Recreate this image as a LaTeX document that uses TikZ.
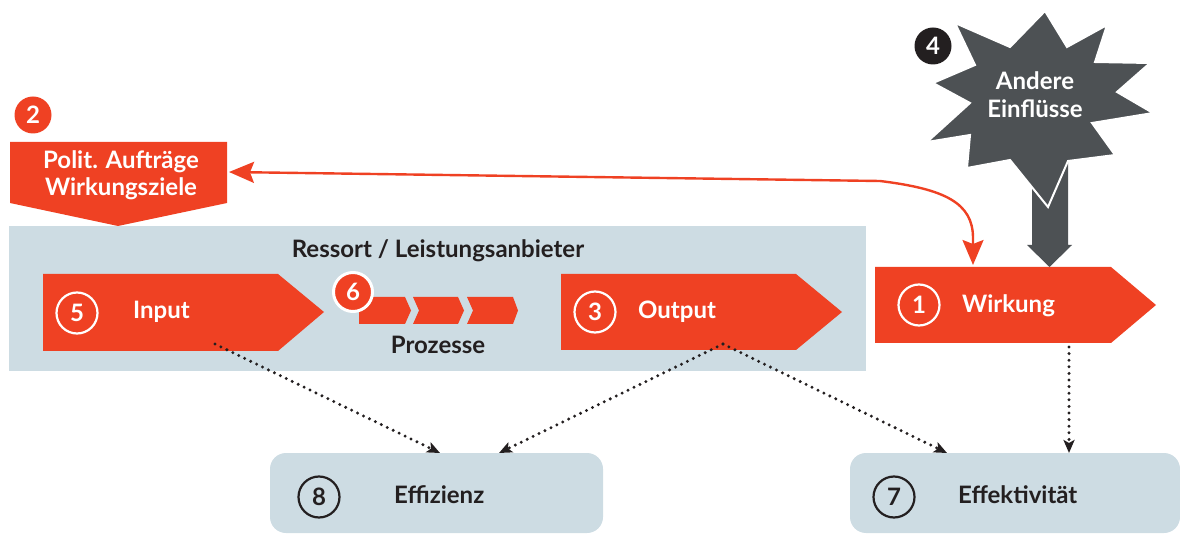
\documentclass[tikz,border=0pt]{standalone}
\usepackage{fontspec}
\setmainfont{Lato}
\usetikzlibrary{arrows.meta}
\definecolor{orng}{HTML}{EF4123}
\definecolor{boxg}{HTML}{CDDCE3}
\definecolor{starg}{HTML}{4D5154}
\definecolor{darkc}{HTML}{231F20}
\begin{document}
\begin{tikzpicture}[x=1pt,y=-1pt,
  wlbl/.style={font=\fontsize{24}{28}\selectfont\bfseries, text=white, inner sep=0pt},
  dlbl/.style={font=\fontsize{24}{28}\selectfont\bfseries, text=darkc, inner sep=0pt},
  numc/.style={circle, inner sep=0pt, minimum size=41pt, font=\fontsize{24}{26}\selectfont\bfseries},
  dotline/.style={draw=darkc, line width=3.3pt, dash pattern=on 0pt off 6.6pt, line cap=round,
     -{Stealth[length=13pt,width=11pt,inset=3pt]}},
  redarrow/.style={draw=orng, line width=2.4pt,
     {Stealth[length=25pt,width=21pt,inset=4pt]}-{Stealth[length=25pt,width=21pt,inset=4pt]}},
]
\path[use as bounding box] (0,0) rectangle (1180,534);

% Ressort box
\fill[boxg] (9,226) rectangle (866,371);
\node[dlbl, anchor=base] (ressort) at (438,258) {Ressort / Leistungsanbieter};

% Polit box
\fill[orng] (10,142) -- (227,142) -- (227,203) -- (118,226) -- (10,203) -- cycle;
\node[wlbl, anchor=base] (polit1) at (121,169) {Polit. Aufträge};
\node[wlbl, anchor=base] (polit2) at (121,196) {Wirkungsziele};
\node[numc, minimum size=37pt, fill=orng, text=white] (c2) at (33,115) {2};

% Input arrow
\fill[orng] (43,274) -- (278,274) -- (324,312) -- (278,351) -- (43,351) -- cycle;
\node[numc, draw=white, line width=2.2pt, text=white] (c5) at (77,313) {5};
\node[wlbl, anchor=base west] (input) at (133,319) {Input};

% Prozesse chevrons
\fill[orng] (359,297) -- (405,297) -- (411,310.5) -- (405,324) -- (359,324) -- cycle;
\fill[orng] (413,297) -- (458,297) -- (464,310.5) -- (458,324) -- (413,324) -- (419,310.5) -- cycle;
\fill[orng] (467,297) -- (513,297) -- (518,310.5) -- (513,324) -- (467,324) -- (473,310.5) -- cycle;
\node[numc, fill=orng, draw=white, line width=3pt, text=white, minimum size=39pt] (c6) at (353,292) {6};
\node[dlbl, anchor=base] (prozesse) at (438,353) {Prozesse};

% Output arrow
\fill[orng] (561,274) -- (796,274) -- (842,312) -- (796,350) -- (561,350) -- cycle;
\node[numc, draw=white, line width=2.2pt, text=white] (c3) at (595,312) {3};
\node[wlbl, anchor=base west] (output) at (638,319) {Output};

% Wirkung arrow
\fill[orng] (875,267) -- (1111,267) -- (1156,305) -- (1111,343) -- (875,343) -- cycle;
\node[numc, draw=white, line width=2.2pt, text=white] (c1) at (919,305) {1};
\node[wlbl, anchor=base west] (wirkung) at (962,313) {Wirkung};

% gray arrow stem
\fill[starg] (1032,150) -- (1032,245) -- (1027,245) -- (1049.5,267) -- (1072,245) -- (1068,245) -- (1068,150) -- cycle;
% star
\filldraw[fill=starg, draw=white, line width=2pt, line join=miter]
  (1045,11) -- (1067,47) -- (1107,25) -- (1095,62) -- (1150,63) -- (1117,92) -- (1153,113)
  -- (1092,123) -- (1115,155) -- (1068,161) -- (1048,207) -- (1010,160) -- (967,168)
  -- (970,135) -- (927,142) -- (970,103) -- (933,83) -- (975,65) -- (955,23) -- (1010,47) -- cycle;
\node[wlbl, anchor=base] (andere) at (1035,90) {Andere};
\node[wlbl, anchor=base] (einfl) at (1035,118) {Einflüsse};
\node[numc, minimum size=37pt, fill=darkc, text=white] (c4) at (933,46) {4};

% bottom boxes
\fill[boxg, rounded corners=16pt] (270,453) rectangle (603,533);
\node[numc, draw=darkc, line width=2.2pt, text=darkc] (c8) at (319,497) {8};
\node[dlbl, anchor=base west] (effiz) at (394,503) {Effizienz};
\fill[boxg, rounded corners=16pt] (850,453) rectangle (1180,533);
\node[numc, draw=darkc, line width=2.2pt, text=darkc] (c7) at (894,497) {7};
\node[dlbl, anchor=base west] (effekt) at (958,503) {Effektivität};

% connector coordinates
\coordinate (inS) at (215,344);
\coordinate (outS) at (723,344);
\coordinate (wirS) at (1069,347);
\coordinate (effzA) at (440,453);
\coordinate (effzB) at (499,453);
\coordinate (effkA) at (947,453);
\coordinate (effkB) at (1069,453);
\coordinate (politE) at (229,172);
\coordinate (wirkN) at (973,265);

% dotted connectors
\draw[dotline] (inS) -- (effzA);
\draw[dotline] (outS) -- (effzB);
\draw[dotline] (outS) -- (effkA);
\draw[dotline] (wirS) -- (effkB);

% red double arrow
\draw[redarrow] (politE) -- (880,181) .. controls (945,189) and (973,203) .. (973,238) -- (wirkN);
\end{tikzpicture}
\end{document}
